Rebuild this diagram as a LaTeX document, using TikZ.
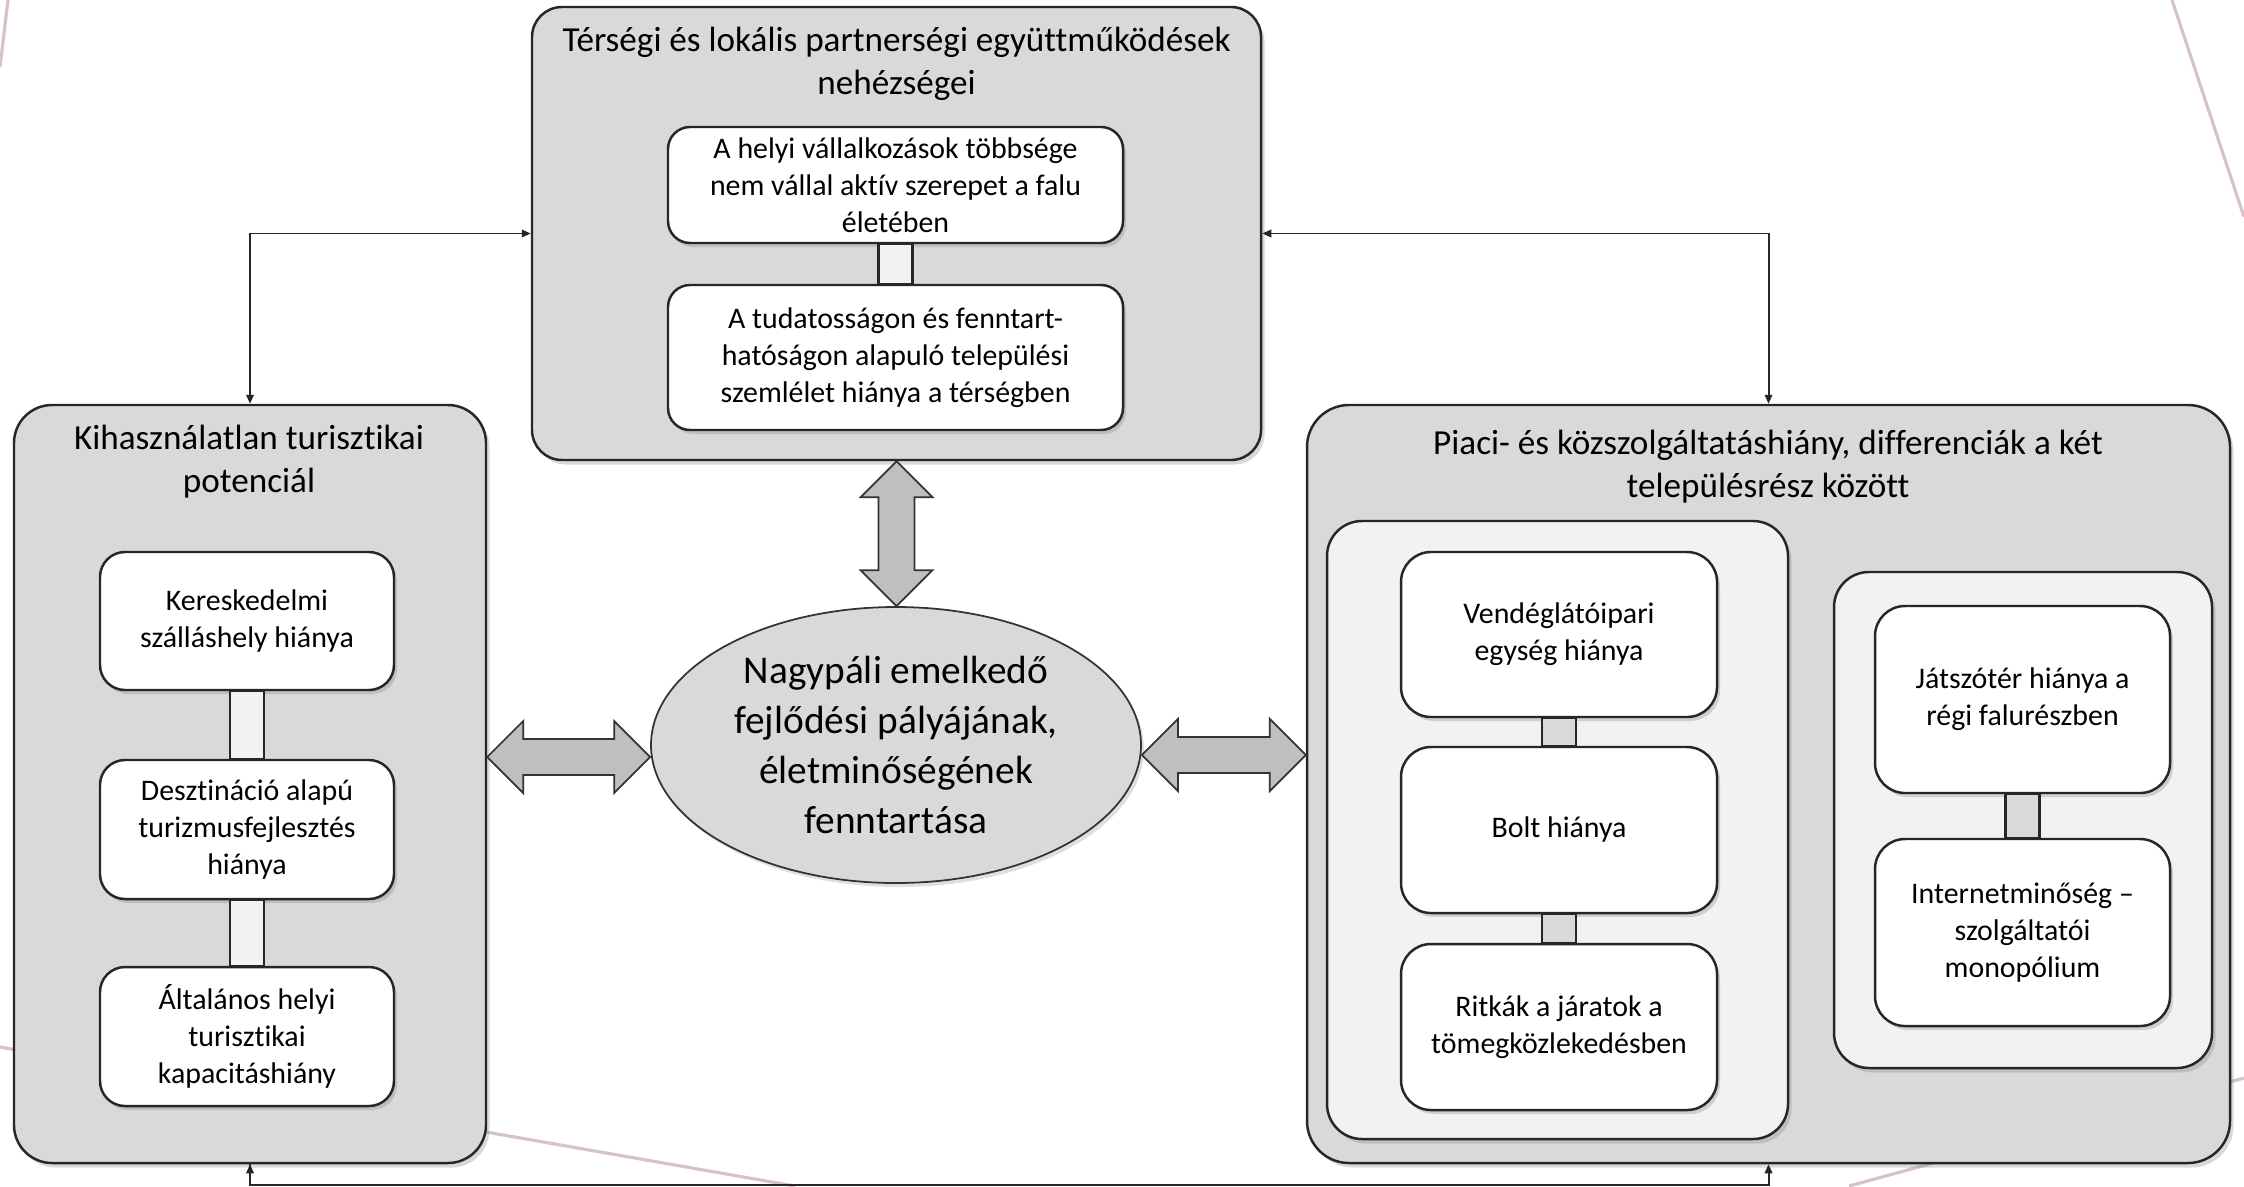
\documentclass[tikz,border=0pt]{standalone}
\usepackage{fontspec}
\setmainfont[RawFeature={-liga;-clig;-calt;-dlig}]{Carlito}
\usetikzlibrary{positioning,calc,shadows,arrows.meta,shapes.geometric}

\definecolor{boxgray}{HTML}{D9D9D9}
\definecolor{panelgray}{HTML}{F2F2F2}
\definecolor{arrowgray}{HTML}{BFBFBF}
\definecolor{decopink}{HTML}{D6C3C7}

\tikzset{
  bigbox/.style={draw=black!85, line width=0.7pt, fill=boxgray, rounded corners=0.42cm, inner sep=0pt,
    drop shadow={shadow xshift=0.035cm, shadow yshift=-0.045cm, opacity=0.3}},
  panel/.style={bigbox, fill=panelgray, rounded corners=0.35cm},
  item/.style={draw=black!85, line width=0.7pt, fill=white, rounded corners=0.25cm, align=center,
    inner sep=1pt, font=\fontsize{8.5}{10.5}\selectfont,
    drop shadow={shadow xshift=0.03cm, shadow yshift=-0.04cm, opacity=0.3}},
  titletext/.style={align=center, font=\fontsize{10}{12.4}\selectfont},
  bar/.style={draw=black!85, line width=0.7pt, fill=panelgray},
  darkbar/.style={bar, fill=boxgray},
  link/.style={draw=black!85, line width=0.55pt, {Triangle[length=0.9mm,width=0.75mm]}-{Triangle[length=0.9mm,width=0.75mm]}},
  uplink/.style={draw=black!85, line width=0.55pt, -{Triangle[length=0.9mm,width=0.75mm]}},
  fatarrow/.style={draw=black!80, line width=0.5pt, fill=arrowgray, line join=miter},
  deco/.style={draw=decopink, line width=0.9pt}
}

% fat double arrows, tips given as coordinates
\newcommand{\fatarrowh}[2]{\draw[fatarrow] (#1) -- ++(0.36,0.36) -- ++(0,-0.18) -- ($(#2)+(-0.36,0.18)$) -- ++(0,0.18) -- (#2) -- ++(-0.36,-0.36) -- ++(0,0.18) -- ($(#1)+(0.36,-0.18)$) -- ++(0,-0.18) -- cycle;}
\newcommand{\fatarrowv}[2]{\draw[fatarrow] (#1) -- ++(0.36,-0.36) -- ++(-0.18,0) -- ($(#2)+(0.18,0.36)$) -- ++(0.18,0) -- (#2) -- ++(-0.36,0.36) -- ++(0.18,0) -- ($(#1)+(-0.18,-0.36)$) -- ++(-0.18,0) -- cycle;}

\begin{document}
\begin{tikzpicture}
    \useasboundingbox (0,0) rectangle (22.44,-11.86);

    % background lines
    \draw[deco] (0.08,0) -- (0,-0.67);
    \draw[deco] (21.72,0) -- (22.44,-2.17);
    \draw[deco] (0,-10.47) -- (7.95,-11.86);
    \draw[deco] (18.49,-11.86) -- (22.44,-10.78);

    % top box
    \node[bigbox, rounded corners=0.3cm, minimum width=7.29cm, minimum height=4.53cm] (tbox) at (8.965,-2.335) {};
    \node[titletext] (ttitle) at (8.965,-0.64) {Térségi és lokális partnerségi együttműködések\\nehézségei};
    \node[item, minimum width=4.55cm, minimum height=1.16cm, rounded corners=0.22cm] (t1) at (8.955,-1.85)
        {A helyi vállalkozások többsége\\nem vállal aktív szerepet a falu\\életében};
    \node[item, minimum width=4.55cm, minimum height=1.45cm, rounded corners=0.22cm] (t2) at (8.955,-3.575)
        {A tudatosságon és fenntart-\\hatóságon alapuló települési\\szemlélet hiánya a térségben};
    \draw[bar] ([xshift=-0.17cm]t1.south) rectangle ([xshift=0.17cm]t2.north);

    % left box
    \node[bigbox, minimum width=4.72cm, minimum height=7.58cm, rounded corners=0.38cm] (lbox) at (2.50,-7.84) {};
    \node[titletext] (ltitle) at (2.49,-4.615) {Kihasználatlan turisztikai\\potenciál};
    \node[item, minimum width=2.94cm, minimum height=1.38cm] (l1) at (2.47,-6.21) {Kereskedelmi\\szálláshely hiánya};
    \node[item, minimum width=2.94cm, minimum height=1.39cm] (l2) at (2.47,-8.295) {Desztináció alapú\\turizmusfejlesztés\\hiánya};
    \node[item, minimum width=2.94cm, minimum height=1.39cm] (l3) at (2.47,-10.365) {Általános helyi\\turisztikai\\kapacitáshiány};
    \draw[bar] ([xshift=-0.17cm]l1.south) rectangle ([xshift=0.17cm]l2.north);
    \draw[bar] ([xshift=-0.17cm]l2.south) rectangle ([xshift=0.17cm]l3.north);

    % right box
    \node[bigbox, minimum width=9.23cm, minimum height=7.58cm] (rbox) at (17.685,-7.84) {};
    \node[titletext] (rtitle) at (17.68,-4.665) {Piaci- és közszolgáltatáshiány, differenciák a két\\településrész között};
    \node[panel, minimum width=4.61cm, minimum height=6.18cm] (rp1) at (15.575,-8.30) {};
    \node[panel, minimum width=3.78cm, minimum height=4.96cm] (rp2) at (20.23,-8.20) {};
    \node[item, minimum width=3.16cm, minimum height=1.65cm, rounded corners=0.3cm] (r1) at (15.59,-6.345) {Vendéglátóipari\\egység hiánya};
    \node[item, minimum width=3.16cm, minimum height=1.66cm, rounded corners=0.3cm] (r2) at (15.59,-8.30) {Bolt hiánya};
    \node[item, minimum width=3.16cm, minimum height=1.66cm, rounded corners=0.3cm] (r3) at (15.59,-10.27) {Ritkák a járatok a\\tömegközlekedésben};
    \node[item, minimum width=2.95cm, minimum height=1.87cm, rounded corners=0.3cm] (r4) at (20.225,-6.995) {Játszótér hiánya a\\régi falurészben};
    \node[item, minimum width=2.95cm, minimum height=1.87cm, rounded corners=0.3cm] (r5) at (20.225,-9.325) {Internetminőség –\\szolgáltatói\\monopólium};
    \draw[darkbar] ([xshift=-0.17cm]r1.south) rectangle ([xshift=0.17cm]r2.north);
    \draw[darkbar] ([xshift=-0.17cm]r2.south) rectangle ([xshift=0.17cm]r3.north);
    \draw[darkbar] ([xshift=-0.17cm]r4.south) rectangle ([xshift=0.17cm]r5.north);

    % centre
    \node[ellipse, draw=black!80, line width=0.5pt, fill=boxgray, minimum width=4.9cm, minimum height=2.76cm,
        inner sep=0pt, align=center, font=\fontsize{11.2}{14.2}\selectfont,
        drop shadow={shadow xshift=0.03cm, shadow yshift=-0.04cm, opacity=0.25}] (goal) at (8.96,-7.45)
        {Nagypáli emelkedő\\fejlődési pályájának,\\életminőségének\\fenntartása};

    % thin connectors
    \draw[link] (lbox.north) |- (tbox.west);
    \draw[link] (rbox.north) |- (tbox.east);
    \draw[uplink] (lbox.south) -- ++(0,-0.21) coordinate (lfoot) -| (rbox.south);
    \draw[uplink] (lfoot) -- (lbox.south);

    % fat arrows
    \path (goal.west) ++(0,-0.12) coordinate (gl);
    \path (goal.east) ++(0,-0.10) coordinate (gr);
    \coordinate (lt) at (gl -| lbox.east);
    \coordinate (rt) at (gr -| rbox.west);
    \coordinate (tt) at (tbox.south);
    \coordinate (gt) at (tt |- goal.north);
    \fatarrowh{lt}{gl}
    \fatarrowh{gr}{rt}
    \fatarrowv{tt}{gt}
\end{tikzpicture}
\end{document}
